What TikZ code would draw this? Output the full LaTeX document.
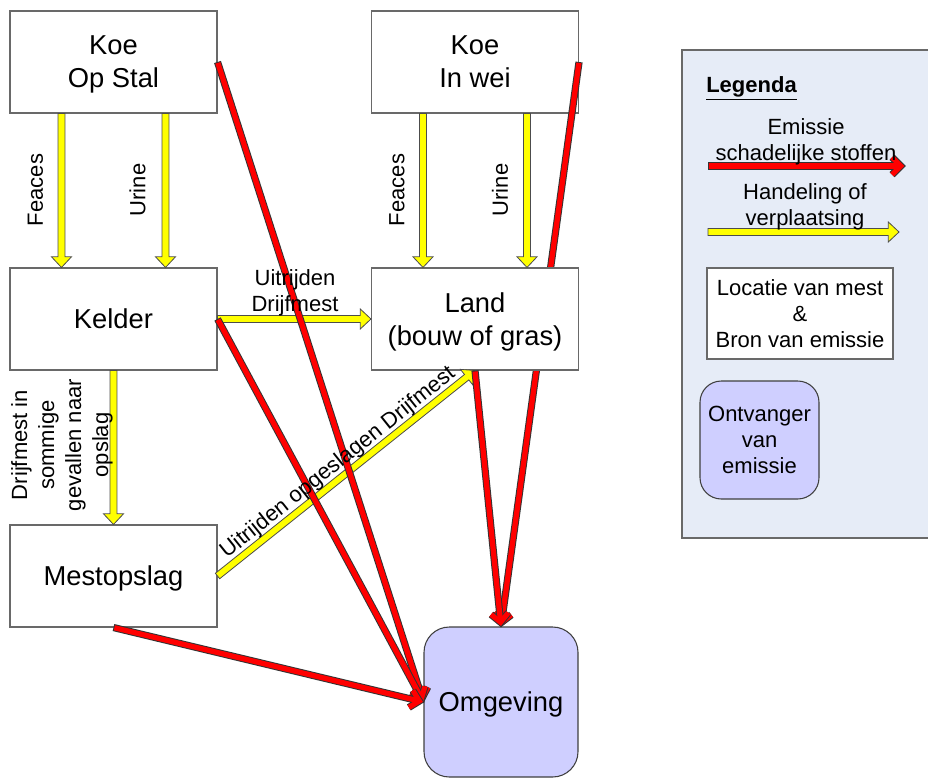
\documentclass[tikz,border=0pt]{standalone}
\usepackage{fontspec}
\setmainfont{Liberation Sans}
\usetikzlibrary{calc}

\definecolor{boxline}{RGB}{105,105,105}
\definecolor{receiver}{RGB}{207,207,255}
\definecolor{legendbg}{RGB}{230,236,247}
\definecolor{arrowred}{RGB}{255,0,0}
\definecolor{arrowyellow}{RGB}{255,255,0}

\tikzset{
  stage/.style={draw=boxline, line width=0.8pt, fill=white,
    minimum width=155.25pt, minimum height=76.5pt, align=center,
    font=\fontsize{20.5}{24.75}\selectfont, inner sep=0pt, text depth=0pt},
  receiverbox/.style={draw=black!75, line width=0.8pt, fill=receiver,
    align=center, inner sep=0pt},
  flowlabel/.style={font=\fontsize{16.5}{19.5}\selectfont, align=center, inner sep=0pt},
  yellowarrow/.style={fill=arrowyellow, draw=black!70, line width=0.6pt, line join=miter},
  redout/.style={draw=black!80, line width=5.4pt, line join=miter},
  redin/.style={draw=arrowred, line width=3.9pt, line join=miter},
}

% block arrow (handling / transport): #1 start, #2 tip
\newcommand\flowarrow[2]{%
  \coordinate (ya) at (#1);
  \coordinate (yb) at (#2);
  \coordinate (yc) at ($(yb)!8pt!(ya)$);
  \filldraw[yellowarrow] ($(ya)!2.6pt!90:(yb)$) -- ($(yc)!2.6pt!90:(yb)$)
    -- ($(yc)!7.5pt!90:(yb)$) -- (yb) -- ($(yc)!7.5pt!-90:(yb)$)
    -- ($(yc)!2.6pt!-90:(yb)$) -- ($(ya)!2.6pt!-90:(yb)$) -- cycle;
}

% outlined red line with open head (emission): #1 start, #2 tip
\newcommand\emisarrow[2]{%
  \coordinate (ra) at (#1);
  \coordinate (rb) at ($(#2)!3.2pt!(ra)$);
  \coordinate (rc) at ($(rb)!6.5pt!(ra)$);
  \draw[redout] (ra) -- (rb);
  \draw[redout] ($(rc)!6.5pt!90:(rb)$) -- (rb) -- ($(rc)!6.5pt!-90:(rb)$);
  \draw[redin] ($(ra)!0.7pt!(rb)$) -- (rb);
  \draw[redin] ($(rc)!6.5pt!90:(rb)$) -- (rb) -- ($(rc)!6.5pt!-90:(rb)$);
}

\begin{document}
\begin{tikzpicture}[x=0.75pt, y=-0.75pt]
\useasboundingbox (0,0) rectangle (928,778);

% legend panel
\fill[legendbg] (682,50) rectangle (930,538);
\draw[boxline, line width=0.8pt] (930,50) -- (682,50) -- (682,538) -- (930,538);

% locations
\node[stage] (stal) at (113.5,62) {Koe\\Op Stal};
\node[stage] (wei) at (475,62) {Koe\\In wei};
\node[stage] (kelder) at (113.5,319) {Kelder};
\node[stage] (opslag) at (113.5,576) {Mestopslag};
\node[receiverbox, rounded corners=19pt, minimum width=115.5pt, minimum height=112.5pt,
  text depth=0pt, font=\fontsize{20.5}{24.75}\selectfont] (omg) at (501,702) {Omgeving};

% emission from the pasture, passing behind the field box
\emisarrow{wei.east}{omg.north}

\node[stage] (land) at (475,319) {Land\\(bouw of gras)};

% handling of manure
\flowarrow{$(stal.south west)!0.25!(stal.south east)$}{$(kelder.north west)!0.25!(kelder.north east)$}
\flowarrow{$(stal.south west)!0.75!(stal.south east)$}{$(kelder.north west)!0.75!(kelder.north east)$}
\flowarrow{$(wei.south west)!0.25!(wei.south east)$}{$(land.north west)!0.25!(land.north east)$}
\flowarrow{$(wei.south west)!0.75!(wei.south east)$}{$(land.north west)!0.75!(land.north east)$}
\flowarrow{kelder.east}{land.west}
\flowarrow{kelder.south}{opslag.north}
\flowarrow{opslag.east}{land.south}

% emissions
\emisarrow{stal.east}{omg.west}
\emisarrow{kelder.east}{omg.west}
\emisarrow{opslag.south}{omg.west}
\emisarrow{land.south}{omg.north}

% flow labels
\node[flowlabel, rotate=90] (lfeces1) at (35.5,190) {Feaces};
\node[flowlabel, rotate=90] (lurine1) at (137.5,190) {Urine};
\node[flowlabel, rotate=90] (lfeces2) at (397,190) {Feaces};
\node[flowlabel, rotate=90] (lurine2) at (500,190) {Urine};
\node[flowlabel] (lrijden) at (295,293) {Uitrijden\\Drijfmest};
\node[flowlabel, rotate=90, font=\fontsize{16.5}{20.25}\selectfont] (lopslag) at (62,445)
  {Drijfmest in\\sommige\\gevallen naar\\opslag};
\path (opslag.east) -- (land.south)
  node[flowlabel, midway, sloped, above=2pt] (lopgeslagen) {Uitrijden opgeslagen Drijfmest};

% legend
\node[anchor=west, inner sep=0pt, font=\fontsize{16.5}{19.5}\selectfont\bfseries] (leghead)
  at (706,88) {\underline{Legenda}};
\coordinate (lr1) at (708,166);
\coordinate (lr2) at (905,166);
\emisarrow{lr1}{lr2}
\coordinate (ly1) at (708,232);
\coordinate (ly2) at (899,232);
\flowarrow{ly1}{ly2}
\node[flowlabel] (legemis) at (806,142) {Emissie\\schadelijke stoffen};
\node[flowlabel] (leghand) at (805,207) {Handeling of\\verplaatsing};
\node[draw=boxline, fill=white, line width=0.8pt, minimum width=139.5pt, minimum height=68.25pt,
  align=center, inner sep=0pt, font=\fontsize{16.5}{19.5}\selectfont] (legloc)
  at (800,313.5) {Locatie van mest\\\&\\Bron van emissie};
\node[receiverbox, rounded corners=16pt, minimum width=89.25pt, minimum height=88.5pt,
  font=\fontsize{16.5}{19.5}\selectfont] (legrecv) at (759.5,440) {Ontvanger\\van\\emissie};
\end{tikzpicture}
\end{document}
